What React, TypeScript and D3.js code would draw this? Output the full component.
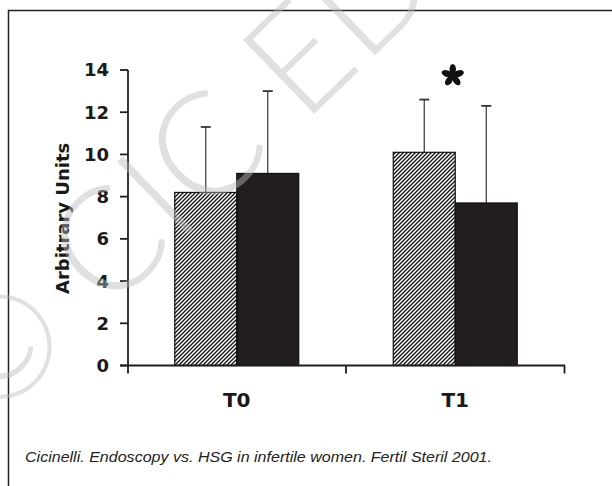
import React from "react";
import * as d3 from "d3";

const categories = ["T0", "T1"];
const seriesNames = ["hatched", "solid"];
const hatchedMeans = [8.2, 10.1];
const hatchedSD = [3.1, 2.5];
const solidMeans = [9.1, 7.7];
const solidSD = [3.9, 4.6];
const yTicks = [0, 2, 4, 6, 8, 10, 12, 14];
const significant = [false, true];
const yTitle = "Arbitrary Units";
const caption = "Cicinelli. Endoscopy vs. HSG in infertile women. Fertil Steril 2001.";
const watermark = "© CIC EDI";

const W = 612;
const H = 486;

export default function App() {
  const y = d3.scaleLinear().domain([0, 14]).range([365.5, 70]);
  const x = d3.scaleBand<string>().domain(categories).range([127.5, 564.5]).padding(0);
  const groupW = 124;
  const x1 = d3.scaleBand<string>().domain(seriesNames).range([0, groupW]).padding(0);

  const series = [
    { key: "hatched", means: hatchedMeans, sd: hatchedSD, fill: "url(#hatch)" },
    { key: "solid", means: solidMeans, sd: solidSD, fill: "#221e1f" },
  ];

  const axisColor = "#1e1e1e";
  const y0 = y(0);

  const petalAngles = d3.range(5).map((i) => -90 + i * 72);

  return (
    <svg
      width={W}
      height={H}
      viewBox={`0 0 ${W} ${H}`}
      style={{ position: "absolute", left: 0, top: 0, background: "#fff" }}
    >
      <defs>
        <pattern id="hatch" patternUnits="userSpaceOnUse" width={4} height={4}>
          <rect width={4} height={4} fill="#fff" />
          <path d="M-1,1 L1,-1 M0,4 L4,0 M3,5 L5,3" stroke="#111" strokeWidth={1.3} />
        </pattern>
        <clipPath id="page">
          <rect x={0} y={0} width={W} height={H} />
        </clipPath>
      </defs>

      {/* frame */}
      <path d={`M8.5,${H} V10.5 H${W}`} fill="none" stroke="#222" strokeWidth={1.5} />

      {/* bars */}
      {categories.map((c, ci) => {
        const cx = (x(c) as number) + x.bandwidth() / 2 - groupW / 2;
        return (
          <g key={c}>
            {series.map((s) => {
              const bx = cx + (x1(s.key) as number);
              const bw = x1.bandwidth();
              const top = y(s.means[ci]);
              const errTop = y(s.means[ci] + s.sd[ci]);
              const mx = bx + bw / 2;
              return (
                <g key={s.key}>
                  <line x1={mx} x2={mx} y1={top} y2={errTop} stroke="#333" strokeWidth={1.2} />
                  <line x1={mx - 5} x2={mx + 5} y1={errTop} y2={errTop} stroke="#333" strokeWidth={1.8} />
                  <rect
                    x={bx}
                    y={top}
                    width={bw}
                    height={y0 - top}
                    fill={s.fill}
                    stroke="#111"
                    strokeWidth={1.2}
                  />
                </g>
              );
            })}
          </g>
        );
      })}

      {/* asterisk */}
      {categories.map((c, ci) =>
        significant[ci] ? (
          <g key={"ast" + c} transform={`translate(${(x(c) as number) + x.bandwidth() / 2 - 2.5},75.5)`}>
            {petalAngles.map((a) => (
              <ellipse
                key={a}
                cx={0}
                cy={-6.2}
                rx={3.2}
                ry={5.4}
                fill="#111"
                transform={`rotate(${a + 90})`}
              />
            ))}
            <circle r={2.2} fill="#111" />
          </g>
        ) : null
      )}

      {/* y axis */}
      <line x1={128} x2={128} y1={y(14)} y2={y0 + 8} stroke={axisColor} strokeWidth={1.8} />
      {yTicks.map((t) => (
        <g key={t}>
          <line x1={120} x2={128} y1={y(t)} y2={y(t)} stroke={axisColor} strokeWidth={1.8} />
          <text
            x={109}
            y={y(t)}
            dy="0.36em"
            textAnchor="end"
            fontFamily="DejaVu Sans"
            fontWeight="bold"
            fontSize={18}
            fill="#1a1a1a"
          >
            {t}
          </text>
        </g>
      ))}

      {/* x axis */}
      <line x1={120} x2={565} y1={y0} y2={y0} stroke={axisColor} strokeWidth={1.8} />
      {[...categories.map((c) => x(c) as number), 564.5].slice(1).map((t, i) => (
        <line key={i} x1={t} x2={t} y1={y0} y2={y0 + 8} stroke={axisColor} strokeWidth={1.8} />
      ))}
      {categories.map((c) => (
        <text
          key={c}
          x={(x(c) as number) + x.bandwidth() / 2}
          y={407}
          textAnchor="middle"
          fontFamily="DejaVu Sans"
          fontWeight="bold"
          fontSize={20}
          fill="#1a1a1a"
        >
          {c}
        </text>
      ))}

      {/* y title */}
      <text
        transform="translate(68.5,218.4) rotate(-90)"
        textAnchor="middle"
        fontFamily="DejaVu Sans"
        fontWeight="bold"
        fontSize={18}
        fill="#1a1a1a"
      >
        {yTitle}
      </text>

      {/* caption */}
      <text
        x={25}
        y={462}
        fontFamily="Liberation Sans, Arial, sans-serif"
        fontStyle="italic"
        fontSize={15}
        textLength={467}
        lengthAdjust="spacingAndGlyphs"
        fill="#222"
      >
        {caption}
      </text>

      {/* watermark */}
      <g clipPath="url(#page)">
        <text
          transform="translate(-9,426) rotate(-44)"
          fontFamily="Lato, Roboto, 'Open Sans', sans-serif"
          fontWeight={300}
          fontSize={145}
          fill="#bbb"
          fillOpacity={0.45}
        >
          {watermark}
        </text>
      </g>
    </svg>
  );
}
